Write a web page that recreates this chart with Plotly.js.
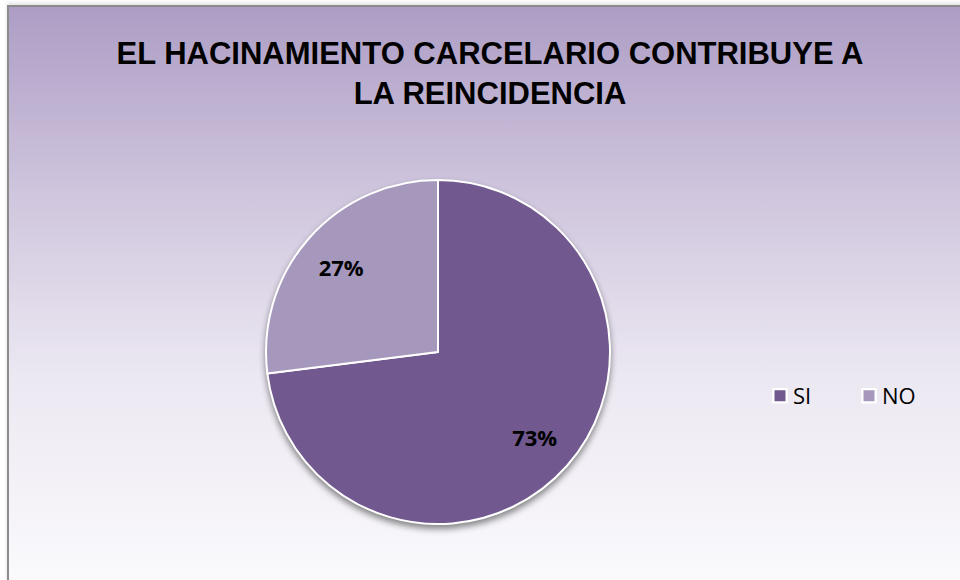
<!DOCTYPE html>
<html>
<head>
<meta charset="utf-8">
<script src="https://cdn.plot.ly/plotly-3.0.1.min.js"></script>
<style>
  html, body { margin: 0; padding: 0; background: #ffffff; width: 960px; height: 580px; overflow: hidden; }
  #frame {
    position: absolute; left: 7px; top: 5px; width: 1000px; height: 620px;
    border: 2px solid #8c8c8c; box-sizing: border-box;
    background: linear-gradient(to bottom, #ad9dc5 0%, #cfc5dd 30%, #ece8f2 60%, #fdfdfe 100%);
    box-shadow: 0 -2px 4px rgba(0,0,0,0.12);
  }
  #chart { position: absolute; left: 0; top: 0; width: 960px; height: 580px; }
  .pielayer .trace:first-child { filter: drop-shadow(0px 4px 3px rgba(0,0,0,0.45)); }
  .legend .legendpoints path { transform: translate(27px, 0px) scale(1.1); }
</style>
</head>
<body>
<div id="frame"></div>
<div id="chart"></div>
<script>
  var categories = ['SI', 'NO'];
  var values = [73, 27];
  var sliceColors = ['#71588f', '#a697bd'];
  var titleText = 'EL HACINAMIENTO CARCELARIO CONTRIBUYE A<br>LA REINCIDENCIA';

  var pieDomain = { x: [266/960, 610/960], y: [(580-524)/580, (580-180)/580] };

  var slices = {
    type: 'pie',
    labels: categories,
    values: values,
    sort: false,
    direction: 'clockwise',
    rotation: 0,
    marker: { colors: sliceColors, line: { color: '#ffffff', width: 2 } },
    textinfo: 'none',
    hoverinfo: 'label+percent',
    domain: pieDomain
  };

  // same data, transparent ring used only to place the percentage labels further out
  var labelsRing = {
    type: 'pie',
    labels: categories,
    values: values,
    sort: false,
    direction: 'clockwise',
    rotation: 0,
    hole: 0.5,
    showlegend: false,
    marker: { colors: ['rgba(0,0,0,0)', 'rgba(0,0,0,0)'], line: { width: 0 } },
    texttemplate: '%{percent:.0%}',
    textposition: 'inside',
    insidetextorientation: 'horizontal',
    textfont: { family: 'Open Sans, sans-serif', size: 22, color: '#000000', weight: 'bold' },
    hoverinfo: 'skip',
    domain: pieDomain
  };

  var layout = {
    width: 960, height: 580,
    margin: { l: 0, r: 0, t: 0, b: 0 },
    paper_bgcolor: 'rgba(0,0,0,0)',
    plot_bgcolor: 'rgba(0,0,0,0)',
    title: {
      text: titleText,
      font: { family: 'Liberation Sans Narrow, Arial Narrow, sans-serif', size: 31, color: '#000000', weight: 'bold' },
      x: 490/960, xanchor: 'center',
      y: 1 - 64/580, yanchor: 'top', yref: 'container'
    },
    showlegend: true,
    legend: {
      orientation: 'h',
      x: 753/960, xanchor: 'left',
      y: (580-396)/580, yanchor: 'middle',
      font: { family: 'Open Sans, sans-serif', size: 22, color: '#000000' },
      bgcolor: 'rgba(0,0,0,0)',
      entrywidth: 44
    }
  };

  Plotly.newPlot('chart', [slices, labelsRing], layout, { displayModeBar: false, staticPlot: true });
</script>
</body>
</html>
